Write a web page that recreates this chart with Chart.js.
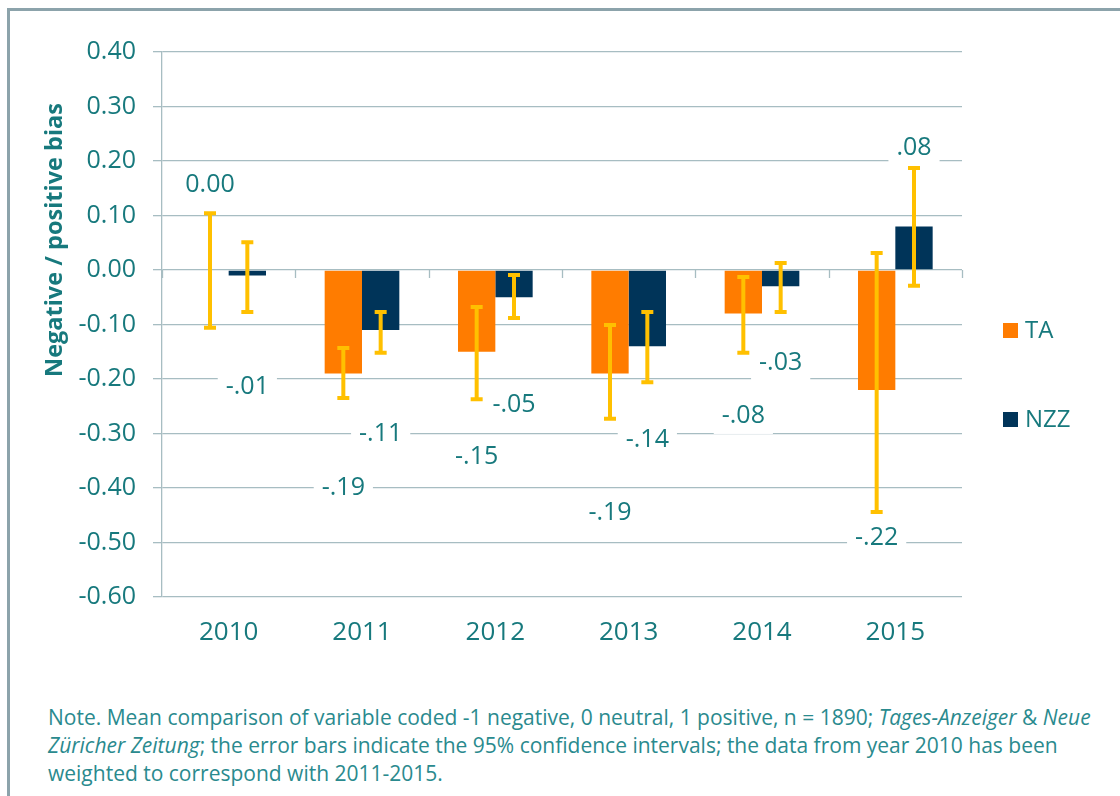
<!DOCTYPE html>
<html>
<head>
<meta charset="utf-8">
<script src="https://cdn.jsdelivr.net/npm/chart.js@4.4.1/dist/chart.umd.min.js"></script>
<style>
  html, body { margin: 0; padding: 0; background: #fff; }
  body { width: 1120px; height: 796px; position: relative; overflow: hidden; }
  .frame {
    position: absolute; left: 7px; top: 8px; width: 1200px; height: 900px;
    border-left: 3px solid #8ca3ab; border-top: 3px solid #8ca3ab;
  }
  #chart { position: absolute; left: 0; top: 0; }
  .note {
    position: absolute; left: 48px; top: 703px; white-space: nowrap;
    font-family: "Open Sans", sans-serif; font-size: 21px; line-height: 28px; color: #2a8a8e;
  }
</style>
</head>
<body>
<div class="frame"></div>
<canvas id="chart" width="1120" height="670"></canvas>
<div class="note">Note. Mean comparison of variable coded -1 negative, 0 neutral, 1 positive, n = 1890; <i>Tages-Anzeiger</i> &amp; <i>Neue</i><br><i>Züricher Zeitung</i>; the error bars indicate the 95% confidence intervals; the data from year 2010 has been<br>weighted to correspond with 2011-2015.</div>
<script>
// categories and series
const years = ["2010", "2011", "2012", "2013", "2014", "2015"]
const taValues = [0.00, -0.19, -0.15, -0.19, -0.08, -0.22]
const nzzValues = [-0.01, -0.11, -0.05, -0.14, -0.03, 0.08]

// 95% confidence intervals
const taLow = [-0.106, -0.235, -0.237, -0.273, -0.152, -0.444]
const taHigh = [0.104, -0.143, -0.068, -0.101, -0.013, 0.031]
const nzzLow = [-0.077, -0.152, -0.088, -0.206, -0.077, -0.029]
const nzzHigh = [0.051, -0.077, -0.009, -0.077, 0.013, 0.187]

// where each value label sits, in axis units
const taLabelAt = [0.158, -0.398, -0.341, -0.444, -0.266, -0.490]
const nzzLabelAt = [-0.213, -0.298, -0.246, -0.310, -0.169, 0.226]

const yTicks = [0.4, 0.3, 0.2, 0.1, 0, -0.1, -0.2, -0.3, -0.4, -0.5, -0.6]

const teal = "#17797d"
const gridColor = "#a7bdc2"
const errColor = "#ffc000"
const fontFamily = "'Open Sans', sans-serif"

function fmtLabel(v) {
  if (v === 0) return "0.00"
  return v.toFixed(2).replace("0.", ".")
}

const overlay = {
  id: "overlay",
  afterDatasetsDraw(chart) {
    const ctx = chart.ctx
    const area = chart.chartArea
    const ys = chart.scales.y
    const y0 = ys.getPixelForValue(0)
    const catW = (area.right - area.left) / years.length

    ctx.save()
    // tick marks on the horizontal axis (zero line)
    ctx.strokeStyle = gridColor
    ctx.lineWidth = 1.3
    for (let i = 0; i <= years.length; i++) {
      const x = Math.round(area.left + i * catW) + 0.5
      ctx.beginPath()
      ctx.moveTo(x, y0)
      ctx.lineTo(x, y0 + 8)
      ctx.stroke()
    }

    // error bars
    const lows = [taLow, nzzLow]
    const highs = [taHigh, nzzHigh]
    ctx.strokeStyle = errColor
    ctx.lineWidth = 4
    ctx.lineCap = "butt"
    for (let d = 0; d < 2; d++) {
      chart.getDatasetMeta(d).data.forEach((bar, i) => {
        const top = ys.getPixelForValue(highs[d][i])
        const bot = ys.getPixelForValue(lows[d][i])
        ctx.beginPath()
        ctx.moveTo(bar.x, top)
        ctx.lineTo(bar.x, bot)
        ctx.moveTo(bar.x - 6, top)
        ctx.lineTo(bar.x + 6, top)
        ctx.moveTo(bar.x - 6, bot)
        ctx.lineTo(bar.x + 6, bot)
        ctx.stroke()
      })
    }

    // value labels with white boxes
    const values = [taValues, nzzValues]
    const anchors = [taLabelAt, nzzLabelAt]
    ctx.font = "25px " + fontFamily
    ctx.textAlign = "center"
    ctx.textBaseline = "middle"
    for (let d = 0; d < 2; d++) {
      chart.getDatasetMeta(d).data.forEach((bar, i) => {
        const txt = fmtLabel(values[d][i])
        const ly = ys.getPixelForValue(anchors[d][i])
        const w = ctx.measureText(txt).width + 16
        ctx.fillStyle = "#ffffff"
        ctx.fillRect(bar.x - w / 2, ly - 19, w, 38)
        ctx.fillStyle = teal
        ctx.fillText(txt, bar.x, ly + 1)
      })
    }

    // legend
    const names = chart.data.datasets.map((ds) => ds.label)
    const colors = chart.data.datasets.map((ds) => ds.backgroundColor)
    const lx = area.right + 41
    const midY = (area.top + area.bottom) / 2
    ctx.font = "24px " + fontFamily
    ctx.textAlign = "left"
    names.forEach((name, k) => {
      const cy = midY + 6 + k * 89
      ctx.fillStyle = colors[k]
      ctx.fillRect(lx, cy - 7.5, 15, 15)
      ctx.fillStyle = teal
      ctx.fillText(name, lx + 22, cy + 1)
    })

    // y-axis title
    ctx.font = "bold 23.5px " + fontFamily
    ctx.textAlign = "center"
    ctx.translate(55, area.top + 188)
    ctx.rotate(-Math.PI / 2)
    ctx.fillStyle = teal
    ctx.fillText("Negative / positive bias", 0, 0)
    ctx.restore()
  },
}

new Chart(document.getElementById("chart"), {
  type: "bar",
  data: {
    labels: years,
    datasets: [
      { label: "TA", data: taValues, backgroundColor: "#ff7c00" },
      { label: "NZZ", data: nzzValues, backgroundColor: "#003459" },
    ],
  },
  options: {
    responsive: false,
    animation: false,
    layout: { padding: { left: 39, top: 52, right: 158, bottom: 13 } },
    datasets: { bar: { categoryPercentage: 0.56, barPercentage: 1.0 } },
    plugins: {
      legend: { display: false },
      tooltip: { enabled: false },
    },
    scales: {
      x: {
        grid: { display: false, drawTicks: false },
        border: { display: false },
        ticks: { color: teal, font: { size: 26, family: fontFamily }, padding: 20 },
        afterFit(scale) { scale.height = 60 },
      },
      y: {
        min: -0.6,
        max: 0.4,
        afterBuildTicks(scale) { scale.ticks = yTicks.map((v) => ({ value: v })) },
        grid: { color: gridColor, lineWidth: 1.3, tickLength: 9 },
        border: { color: gridColor, width: 1.3 },
        ticks: {
          color: teal,
          font: { size: 25, family: fontFamily },
          padding: 17,
          callback: (v) => Number(v).toFixed(2),
        },
        afterFit(scale) { scale.width = 123 },
      },
    },
  },
  plugins: [overlay],
})
</script>
</body>
</html>
